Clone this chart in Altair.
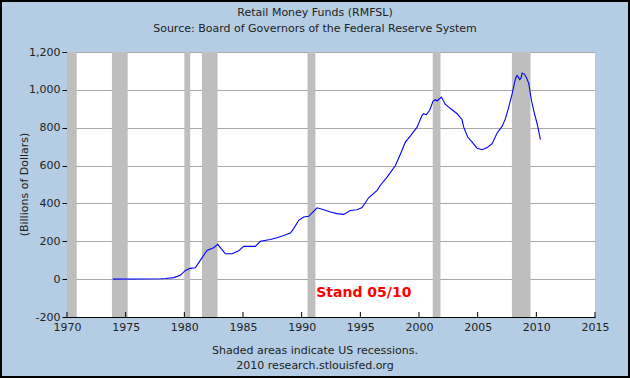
import altair as alt
import pandas as pd

# Retail Money Funds (RMFSL), billions of dollars
years = [1973.9, 1976.0, 1978.0, 1978.4, 1979.1, 1979.66, 1980.09, 1980.5, 1980.94,
         1981.36, 1981.93, 1982.5, 1982.84, 1983.5, 1984.07, 1984.6, 1985.06, 1986.05,
         1986.48, 1987.33, 1987.9, 1988.47, 1989.04, 1989.32, 1989.75, 1990.17, 1990.6,
         1991.31, 1991.88, 1992.45, 1993.0, 1993.58, 1994.15, 1994.72, 1995.15, 1995.71,
         1996.43, 1996.71, 1997.28, 1997.99, 1998.41, 1998.84, 1999.27, 1999.84, 2000.26,
         2000.4, 2000.63, 2000.91, 2001.2, 2001.4, 2001.54, 2001.91, 2002.25, 2002.53,
         2002.82, 2003.25, 2003.67, 2003.81, 2004.15, 2004.53, 2004.95, 2005.38, 2005.81,
         2006.23, 2006.66, 2007.08, 2007.37, 2007.65, 2007.94, 2008.22, 2008.36, 2008.59,
         2008.7, 2008.79, 2008.99, 2009.16, 2009.36, 2009.58, 2009.84, 2010.07, 2010.35]
values = [0, 1, 2, 3, 8, 20, 46, 57, 60,
          99, 152, 166, 184, 134, 134, 148, 173, 173,
          200, 209, 219, 231, 244, 267, 311, 328, 332,
          377, 367, 355, 346, 342, 363, 367, 378, 430,
          469, 496, 539, 600, 660, 724, 757, 803, 865,
          874, 869, 892, 941, 948, 941, 962, 923, 909,
          895, 874, 842, 803, 751, 724, 692, 684, 695,
          716, 772, 807, 848, 909, 980, 1059, 1077, 1054,
          1064, 1089, 1082, 1064, 1033, 945, 874, 821, 737]

# US recessions (start, end) as decimal years
rec_start = [1969.92, 1973.83, 1980.0, 1981.5, 1990.5, 2001.17, 2007.92]
rec_end = [1970.83, 1975.17, 1980.5, 1982.83, 1991.17, 2001.83, 2009.5]

x_ticks = [1970, 1975, 1980, 1985, 1990, 1995, 2000, 2005, 2010, 2015]
y_ticks = [-200, 0, 200, 400, 600, 800, 1000, 1200]

note_text = ["Stand 05/10"]
note_x = [1995.3]
note_y = [-75]

FONT = "DejaVu Sans"
W, H = 528, 265

df = pd.DataFrame({"year": years, "value": values})
rec = pd.DataFrame({"start": rec_start, "end": rec_end})
ticks = pd.DataFrame({"year": x_ticks})
note = pd.DataFrame({"t": note_text, "x": note_x, "y": note_y})

xs = alt.Scale(domain=[1970, 2015], nice=False, zero=False)
ys = alt.Scale(domain=[-200, 1200], nice=False, zero=False)

xaxis = alt.Axis(values=x_ticks, format="d", grid=False, tickSize=0, labelPadding=4,
                 labelOverlap=False, labelFlush=False, labelBound=False,
                 domainColor="black", labelColor="#222222", labelFont=FONT, labelFontSize=11,
                 title=None)
yaxis = alt.Axis(values=y_ticks, format=",d", grid=True, gridColor="#A8A8A8",
                 labelOverlap=False, labelFlush=False, labelBound=False,
                 tickSize=5, tickColor="black", labelPadding=2, domainColor="black",
                 labelColor="#222222", labelFont=FONT, labelFontSize=11,
                 labelExpr="replace(datum.label, '\u2212', '-')",
                 title="(Billions of Dollars)", titleFont=FONT, titleFontSize=11,
                 titleFontWeight="normal", titleColor="#222222", titleAngle=-90,
                 titleX=-43, titleY=132, titleAlign="center", titleBaseline="middle")

bands = alt.Chart(rec).mark_rect(color="#BEBEBE", clip=True).encode(
    x=alt.X("start:Q", scale=xs, axis=xaxis), x2="end:Q",
    y=alt.value(0), y2=alt.value(H),
)

line = alt.Chart(df).mark_line(color="#0000FF", strokeWidth=1.1).encode(
    x=alt.X("year:Q", scale=xs, axis=xaxis), y=alt.Y("value:Q", scale=ys, axis=yaxis),
)

xt = alt.Chart(ticks).mark_rule(color="black", strokeWidth=1).encode(
    x=alt.X("year:Q", scale=xs, axis=xaxis), y=alt.value(H), y2=alt.value(H - 5),
)

red = alt.Chart(note).mark_text(color="#FF0000", font=FONT, fontSize=14,
                                fontWeight="bold", align="center", baseline="middle").encode(
    x=alt.X("x:Q", scale=xs, axis=xaxis), y=alt.Y("y:Q", scale=ys, axis=yaxis), text="t:N",
)

def label(txt, xv, yv):
    return alt.Chart(pd.DataFrame({"t": [txt]})).mark_text(
        font=FONT, fontSize=11, color="#222222", align="center", baseline="middle"
    ).encode(text="t:N", x=alt.value(xv), y=alt.value(yv))

cx = 315 - 67
texts = [
    label("Retail Money Funds (RMFSL)", cx, 13 - 52),
    label("Source: Board of Governors of the Federal Reserve System", cx, 29 - 52),
    label("Shaded areas indicate US recessions.", cx, 351 - 52),
    label("2010 research.stlouisfed.org", cx, 366 - 52),
]

frame = alt.Chart(pd.DataFrame({"a": [0]})).mark_rect(
    fill=None, stroke="black", strokeWidth=2
).encode(x=alt.value(-66), x2=alt.value(562), y=alt.value(-51), y2=alt.value(325))

chart = alt.layer(bands, line, xt, red, *texts, frame).properties(
    width=W, height=H,
    autosize=alt.AutoSizeParams(type="none"),
    padding={"left": 67, "top": 52, "right": 35, "bottom": 61},
    background="#B4CDE4",
).configure_view(stroke=None, fill="white")

chart.save("out.html", embed_options={"renderer": "svg", "actions": False})
